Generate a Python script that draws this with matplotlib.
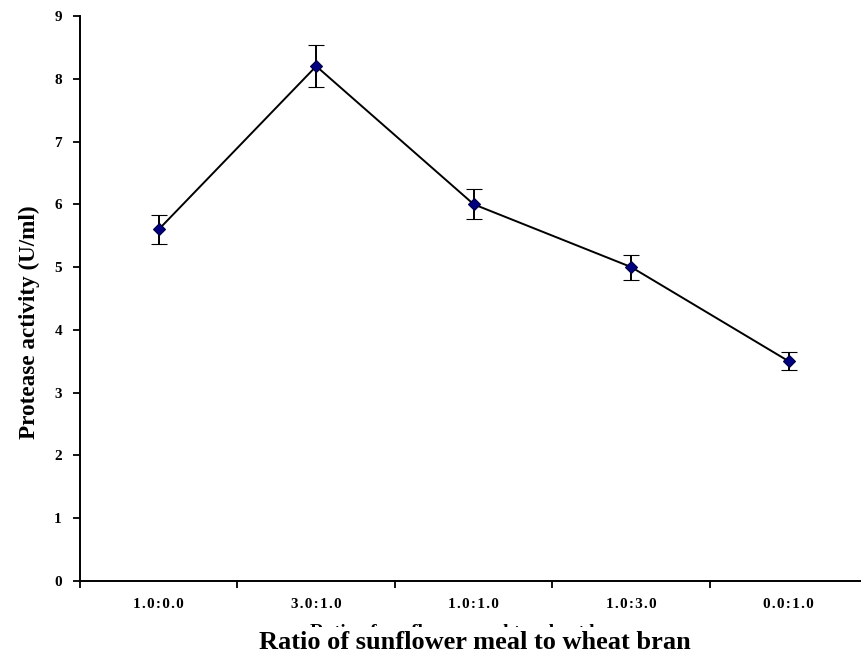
import matplotlib.pyplot as plt
import numpy as np

plt.rcParams['font.family'] = ['Liberation Serif', 'DejaVu Serif']

ratios = ['1.0:0.0', '3.0:1.0', '1.0:1.0', '1.0:3.0', '0.0:1.0']
activity = [5.6, 8.2, 6.0, 5.0, 3.5]
errors = [0.23, 0.33, 0.24, 0.2, 0.14]

fig = plt.figure(figsize=(8.61, 6.57), dpi=100)
ax = fig.add_axes([0.0929, 0.1157, 0.9146, 0.860])

x = np.arange(len(ratios)) + 0.5
ax.errorbar(x, activity, yerr=errors, color='black', lw=1.4,
            ecolor='black', elinewidth=1.4, capsize=6, capthick=1.4,
            marker='D', markersize=6.5, markerfacecolor='#000080',
            markeredgecolor='#000040', markeredgewidth=0.8, zorder=3)

ax.set_xlim(0, len(ratios))
ax.set_ylim(0, 9)
ax.set_yticks(range(10))
ax.set_yticklabels([str(v) for v in range(10)], fontsize=11, fontweight='bold')

# category boundaries get the tick marks, names sit in between
ax.set_xticks(np.arange(len(ratios) + 1))
ax.set_xticklabels([])
ax.set_xticks(x, minor=True)
ax.set_xticklabels(['\u200a'.join(r) for r in ratios], minor=True,
                   fontsize=11, fontweight='bold')
ax.tick_params(axis='x', which='minor', length=0, pad=12)
ax.tick_params(axis='both', which='major', direction='out', length=5, width=1.3)
ax.tick_params(axis='y', pad=8)

for side in ['top', 'right']:
    ax.spines[side].set_visible(False)
for side in ['left', 'bottom']:
    ax.spines[side].set_linewidth(1.4)

ax.set_ylabel('Protease activity (U/ml)', fontsize=16.7, fontweight='bold')
ax.yaxis.set_label_coords(-0.051, 0.458)

# smaller duplicate title partly covered by the main axis title
fig.text(0.546, 0.024, 'Ratio of sunflower meal to wheat bran', fontsize=14,
         fontweight='bold', ha='center', va='bottom')
fig.text(0.551, 0.004, 'Ratio of sunflower meal to wheat bran', fontsize=19,
         fontweight='bold', ha='center', va='bottom',
         bbox=dict(facecolor='white', edgecolor='none', pad=3))

fig.savefig('out.png', dpi=100)
